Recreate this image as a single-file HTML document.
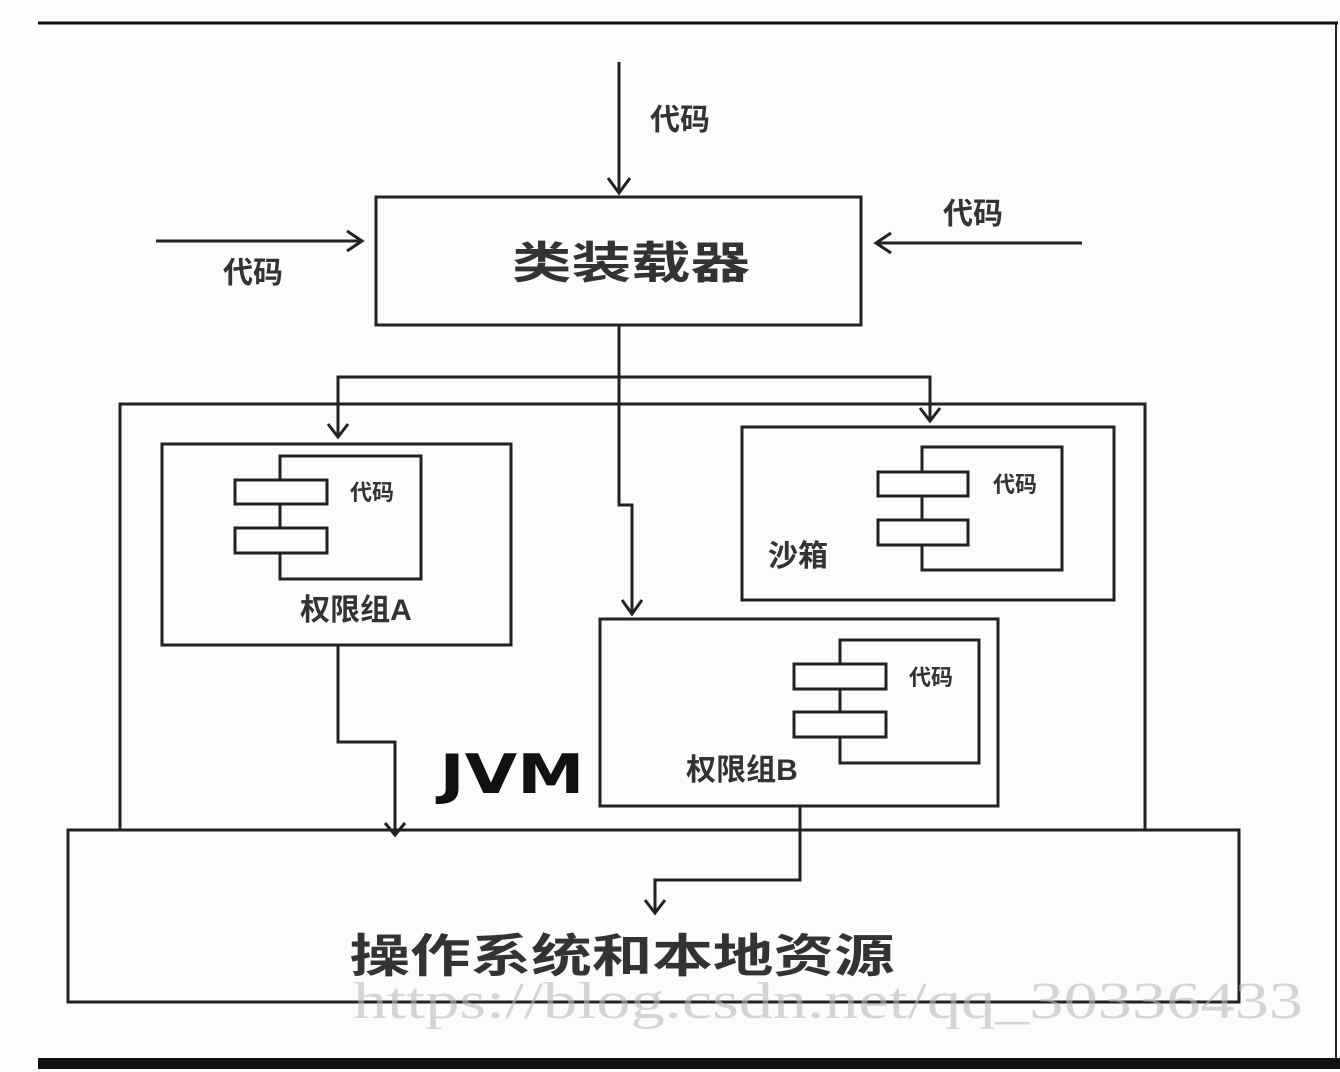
<!DOCTYPE html>
<html><head><meta charset="utf-8"><style>body{margin:0;background:#fcfcfd}svg{display:block}</style></head>
<body>
<svg width="1340" height="1072" viewBox="0 0 1340 1072" xmlns="http://www.w3.org/2000/svg" font-family="'Liberation Sans','Noto Sans CJK SC',sans-serif">
<rect width="1340" height="1072" fill="#fcfcfd"/>
<line x1="38" y1="23" x2="1338" y2="23" stroke="#111" stroke-width="3"/>
<line x1="1336" y1="23" x2="1336" y2="1060" stroke="#222" stroke-width="2"/>
<rect x="38" y="1058" width="1302" height="11" fill="#111"/>
<g fill="none" stroke="#222" stroke-width="3">
<!-- classloader -->
<rect x="376" y="197" width="485" height="128"/>
<!-- JVM -->
<rect x="120" y="404" width="1025" height="426"/>
<!-- OS -->
<rect x="68" y="830" width="1171" height="172"/>
<!-- A -->
<rect x="162" y="444" width="349" height="201"/>
<rect x="280" y="456" width="141" height="123"/>
<rect x="235" y="480" width="92" height="24" fill="#fcfcfd"/>
<rect x="235" y="528" width="92" height="25" fill="#fcfcfd"/>
<!-- sandbox -->
<rect x="742" y="427" width="372" height="173"/>
<rect x="922" y="447" width="140" height="123"/>
<rect x="878" y="472" width="90" height="24" fill="#fcfcfd"/>
<rect x="878" y="520" width="90" height="25" fill="#fcfcfd"/>
<!-- B -->
<rect x="600" y="619" width="398" height="187"/>
<rect x="840" y="640" width="139" height="123"/>
<rect x="794" y="664" width="92" height="25" fill="#fcfcfd"/>
<rect x="794" y="712" width="92" height="25" fill="#fcfcfd"/>
<!-- connectors -->
<polyline points="619,62 619,193"/>
<polyline points="608,178 619,193 630,178"/>
<polyline points="156,241 362,241"/>
<polyline points="347,231 362,241 347,251"/>
<polyline points="1082,243 876,243"/>
<polyline points="891,233 876,243 891,253"/>
<polyline points="619,325 619,505 632,505 632,614"/>
<polyline points="622,600 632,614 642,600"/>
<polyline points="338,437 338,377 930,377 930,421"/>
<polyline points="328,424 338,437 348,424"/>
<polyline points="920,408 930,421 940,408"/>
<polyline points="338,645 338,742 395,742 395,835"/>
<polyline points="385,823 395,835 405,823"/>
<polyline points="800,806 800,880 655,880 655,913"/>
<polyline points="645,900 655,913 665,900"/>
</g>
<g fill="#333" font-weight="bold">
<text x="680" y="130" font-size="30" text-anchor="middle">代码</text>
<text x="253" y="283" font-size="30" text-anchor="middle">代码</text>
<text x="973" y="224" font-size="30" text-anchor="middle">代码</text>
<text x="631" y="278" font-size="44" text-anchor="middle" textLength="238" lengthAdjust="spacingAndGlyphs">类装载器</text>
<text x="372" y="500" font-size="22" text-anchor="middle">代码</text>
<text x="1015" y="492" font-size="22" text-anchor="middle">代码</text>
<text x="931" y="685" font-size="22" text-anchor="middle">代码</text>
<text x="356" y="620" font-size="30" text-anchor="middle">权限组A</text>
<text x="742" y="780" font-size="30" text-anchor="middle">权限组B</text>
<text x="798" y="566" font-size="30" text-anchor="middle">沙箱</text>
<text x="512" y="793" font-size="54" text-anchor="middle" fill="#111" font-family="'DejaVu Sans',sans-serif" textLength="145" lengthAdjust="spacingAndGlyphs">JVM</text>
<text x="622" y="972" font-size="46" text-anchor="middle" textLength="545" lengthAdjust="spacingAndGlyphs">操作系统和本地资源</text>
</g>
<text x="828" y="1018" font-size="52" text-anchor="middle" fill="#bbb" opacity="0.6" font-family="'Liberation Serif',serif" textLength="950" lengthAdjust="spacingAndGlyphs">https://blog.csdn.net/qq_30336433</text>
</svg>
</body></html>
